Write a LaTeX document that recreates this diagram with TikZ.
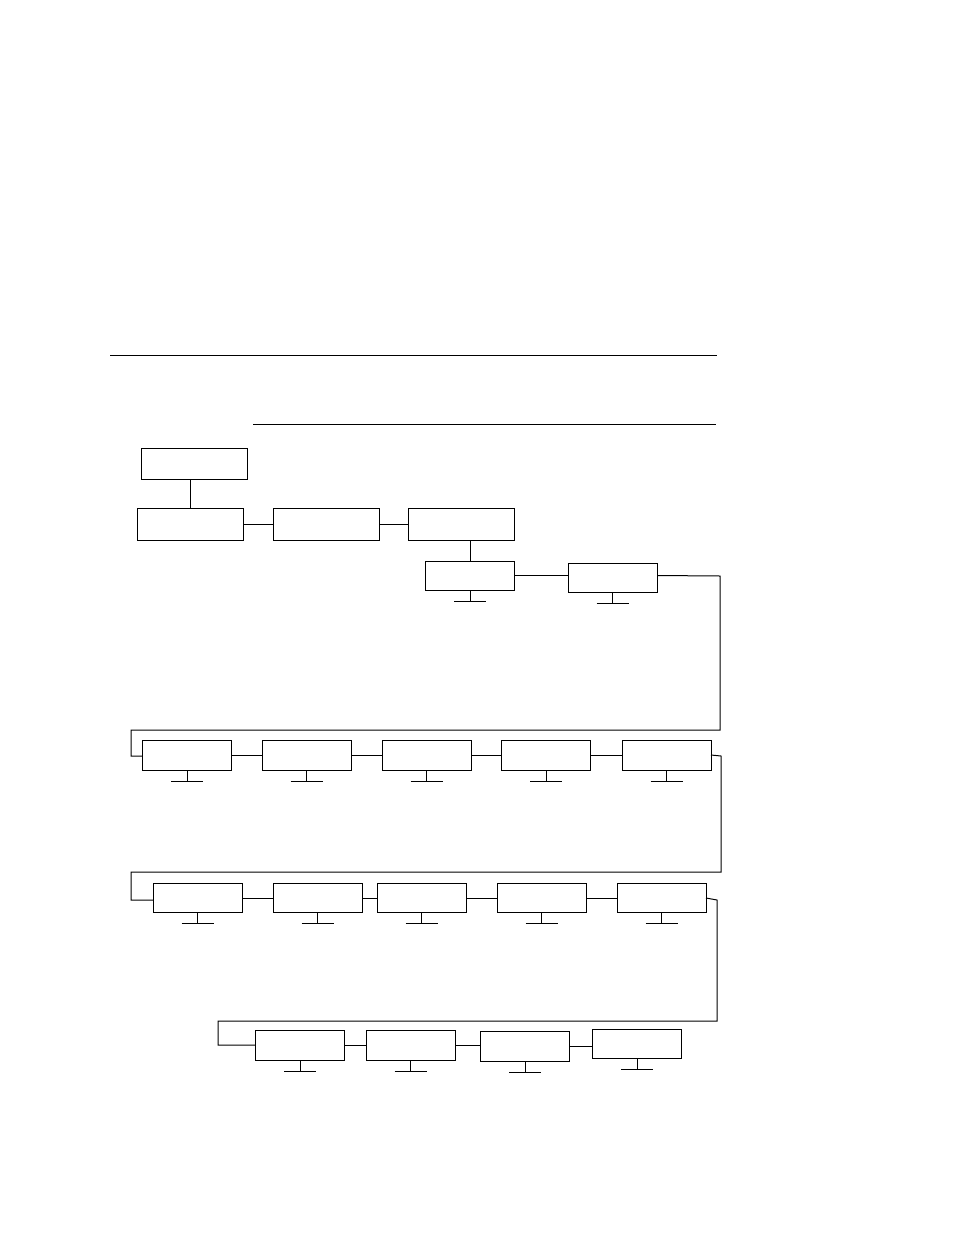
\documentclass[tikz,border=0pt]{standalone}
\begin{document}
\begin{tikzpicture}[x=0.75pt,y=-0.75pt,
  line width=0.75pt,
  box/.style={draw,rectangle,inner sep=0pt,outer sep=0pt,minimum width=66.75pt,minimum height=21.75pt},
  wbox/.style={box,minimum width=79.5pt,minimum height=23.5pt}]
\useasboundingbox (0,0) rectangle (954,1235);
% rules
\coordinate (r1a) at (110,355); \coordinate (r1b) at (717,355);
\coordinate (r2a) at (253,424); \coordinate (r2b) at (716,424);
\draw (r1a) -- (r1b);
\draw (r2a) -- (r2b);
% top rows
\node[wbox] (A) at (194,464) {};
\node[wbox] (B1) at (190,524.5) {};
\node[wbox] (B2) at (326,524.5) {};
\node[wbox] (B3) at (461.5,524.5) {};
\node[box] (C1) at (470,575.5) {};
\node[box] (C2) at (612.5,578) {};
% row D
\node[box,minimum height=22.5pt] (D1) at (187,755) {};
\node[box,minimum height=22.5pt] (D2) at (306.5,755) {};
\node[box,minimum height=22.5pt] (D3) at (426.5,755) {};
\node[box,minimum height=22.5pt] (D4) at (546,755) {};
\node[box,minimum height=22.5pt] (D5) at (666.5,755) {};
% row E
\node[box] (E1) at (197.5,898) {};
\node[box] (E2) at (317.5,898) {};
\node[box] (E3) at (421.5,898) {};
\node[box] (E4) at (541.5,898) {};
\node[box] (E5) at (661.5,898) {};
% row F
\node[box,minimum height=22.5pt] (F1) at (300,1045) {};
\node[box,minimum height=22.5pt] (F2) at (410.5,1045) {};
\node[box,minimum height=22.5pt] (F3) at (525,1046) {};
\node[box] (F4) at (637,1043.5) {};
% connectors
\draw (A.south -| B1.north) -- (B1.north);
\draw (B1.east) -- (B2.west);
\draw (B2.east) -- (B3.west);
\draw (B3.south -| C1.north) -- (C1.north);
\draw (C1.east) -- (C1.east -| C2.west);
\coordinate (k1) at (720,576); \coordinate (k2) at (720,730);
\coordinate (k3) at (131,730); \coordinate (k4) at (131,756);
\draw (C1.east -| C2.east) -- (k1) -- (k2) -- (k3) -- (k4) -- (k4 -| D1.west);
\foreach \a/\b in {D1/D2,D2/D3,D3/D4,D4/D5,E1/E2,E2/E3,E3/E4,E4/E5,F1/F2,F2/F3,F3/F4}
  \draw (\a.east) -- (\a.east -| \b.west);
\coordinate (m1) at (721,756); \coordinate (m2) at (721,872);
\coordinate (m3) at (131,872); \coordinate (m4) at (131,900);
\draw (D5.east) -- (m1) -- (m2) -- (m3) -- (m4) -- (m4 -| E1.west);
\coordinate (n1) at (717,900); \coordinate (n2) at (717,1021);
\coordinate (n3) at (218,1021); \coordinate (n4) at (218,1045);
\draw (E5.east) -- (n1) -- (n2) -- (n3) -- (n4) -- (n4 -| F1.west);
% ticks under boxes
\foreach \n in {C1,C2,D1,D2,D3,D4,D5,E1,E2,E3,E4,E5,F1,F2,F3,F4}
  \draw (\n.south) -- ++(0,11) ++(-16,0) -- ++(32,0);
\end{tikzpicture}
\end{document}
